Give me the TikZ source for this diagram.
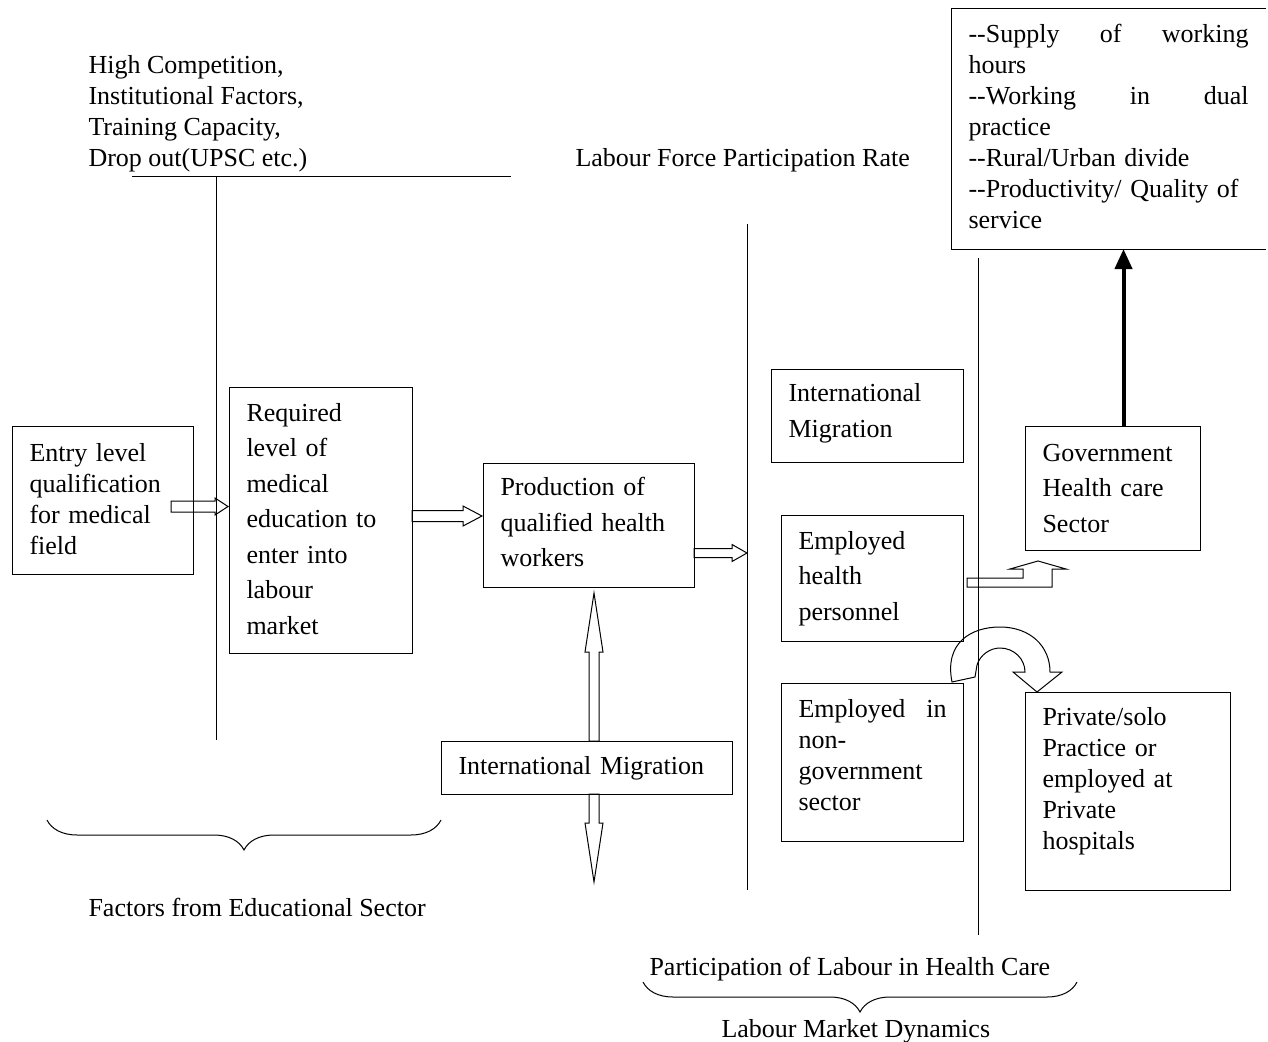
\documentclass[tikz,border=0pt]{standalone}
\usepackage{fontspec}
\setmainfont{Liberation Serif}
\usetikzlibrary{calc,arrows.meta,decorations.pathreplacing}

% two plain hyphens, kept apart so they do not join into a dash
\newcommand\dbldash{-\kern0pt-}

% open block arrows: horizontal (start x, tip x, y, shaft half, head half, head length)
\newcommand\hollowright[6]{%
  \draw[hollow] (#1,#3-#4) -- (#2-#6,#3-#4) -- (#2-#6,#3-#5) -- (#2,#3)
    -- (#2-#6,#3+#5) -- (#2-#6,#3+#4) -- (#1,#3+#4) -- cycle;}
% vertical (x, start y, tip y, shaft half, head half, head length)
\newcommand\hollowup[6]{%
  \draw[hollow] (#1-#4,#2) -- (#1-#4,#3+#6) -- (#1-#5,#3+#6) -- (#1,#3)
    -- (#1+#5,#3+#6) -- (#1+#4,#3+#6) -- (#1+#4,#2) -- cycle;}
\newcommand\hollowdown[6]{%
  \draw[hollow] (#1-#4,#2) -- (#1-#4,#3-#6) -- (#1-#5,#3-#6) -- (#1,#3)
    -- (#1+#5,#3-#6) -- (#1+#4,#3-#6) -- (#1+#4,#2) -- cycle;}

\begin{document}
\begin{tikzpicture}[x=1pt, y=-1pt, line width=1pt,
  every node/.style={font=\fontsize{26}{31}\selectfont, inner sep=0pt},
  box/.style={draw, anchor=north west, align=left, inner xsep=17pt, inner ysep=0pt},
  loose/.style={font=\fontsize{26}{35.5}\selectfont},
  txt/.style={align=left},
  hollow/.style={draw, line width=1pt, line join=miter},
  brace/.style={decorate, decoration={brace, mirror, amplitude=30pt}, line width=1pt}
]
\useasboundingbox (0,0) rectangle (1268,1041);

% ---------- boxes ----------
\node[box, minimum width=181, minimum height=148, text width=147] (entry) at (12,426)
  {Entry level\\qualification\\for medical\\field\\[-27pt]\mbox{}};
\node[box, loose, minimum width=183, minimum height=266, text width=149] (required) at (229,387)
  {Required\\level of\\medical\\education to\\enter into\\labour\\market\\[-31.5pt]\mbox{}};
\node[box, loose, minimum width=211, minimum height=124, text width=177] (production) at (483,463)
  {Production of\\qualified health\\workers\\[-29pt]\mbox{}};
\node[box, minimum width=291, minimum height=53, text width=257] (migbottom) at (441,741)
  {International Migration};
\node[box, loose, minimum width=192, minimum height=93, text width=158] (migright) at (771,369)
  {International\\Migration\\[-24pt]\mbox{}};
\node[box, loose, minimum width=182, minimum height=126, text width=148] (emphealth) at (781,515)
  {Employed\\health\\personnel};
\node[box, minimum width=182, minimum height=158, text width=148] (empnongov) at (781,683)
  {Employed\hfill in\\non-\\government\\sector\\[-15pt]\mbox{}};
\node[box, loose, minimum width=175, minimum height=124, text width=141] (gov) at (1025,426)
  {Government\\Health care\\Sector};
\node[box, minimum width=205, minimum height=198, text width=171] (private) at (1025,692)
  {Private/solo\\Practice or\\employed at\\Private\\hospitals\\[-4pt]\mbox{}};
\node[box, draw=none, minimum width=314, minimum height=239, text width=280] (issues) at (951,9)
  {\dbldash Supply\hfill of\hfill working\\hours\\\dbldash Working\hfill in\hfill dual\\practice\\
   \dbldash Rural/Urban divide\\\dbldash Productivity/ Quality of\\service\\[-25pt]\mbox{}};
% frame of the issues box, open on the right
\draw (issues.north east) -- (issues.north west) -- (issues.south west) -- (issues.south east);

% ---------- free labels ----------
\node[txt, anchor=north west] (factors) at (88,55)
  {High Competition,\\Institutional Factors,\\Training Capacity,\\Drop out(UPSC etc.)};
\node[anchor=base west] (lfpr) at (575,166) {Labour Force Participation Rate};
\node[anchor=base west] (edusector) at (88,916) {Factors from Educational Sector};
\node[anchor=base west] (participation) at (649,975) {Participation of Labour in Health Care};
\node[anchor=base west] (dynamics) at (721,1037) {Labour Market Dynamics};

% ---------- dividing lines ----------
\draw (132,176) -- (511,176);
\draw (216,176) -- (216,740);
\draw (747,224) -- (747,890);
\draw (978,258) -- (978,935);

% ---------- braces ----------
\draw[brace] (47,820) -- (441,820);
\draw[brace] (643,982) -- (1077,982);

% ---------- block arrows ----------
\hollowright{171}{228}{506.5}{5.5}{8.5}{13}
\hollowright{412}{482}{516}{5.5}{10}{19}
\hollowright{694}{747}{553}{4.5}{8.5}{15}
\hollowup{594}{741}{593}{5}{9}{59}
\hollowdown{594}{794}{882}{5}{9}{59}

% bent arrow from employed personnel up to the government sector
\draw[hollow] (967,578) -- (1023,578) -- (1023,569) -- (1010,569) -- (1038,561)
  -- (1066,569) -- (1052,569) -- (1052,587) -- (967,587) -- cycle;

% curved arrow turning over into private practice
\draw[hollow] (952,682) .. controls (944,642) and (972,627) .. (1000,627)
  .. controls (1030,627) and (1050,646) .. (1050,672)
  -- (1062,672) -- (1037,692) -- (1013,672) -- (1025,672)
  .. controls (1025,659) and (1014,648) .. (1000,648)
  .. controls (990,648) and (980,655) .. (977,665)
  -- (975,677) -- cycle;

% thick arrow from the government sector to the list of issues
\draw[line width=4pt, -{Triangle[width=17pt,length=20pt]}]
  ([xshift=10.5pt]gov.north) -- ([xshift=10.5pt]gov.north |- issues.south);
\end{tikzpicture}
\end{document}
